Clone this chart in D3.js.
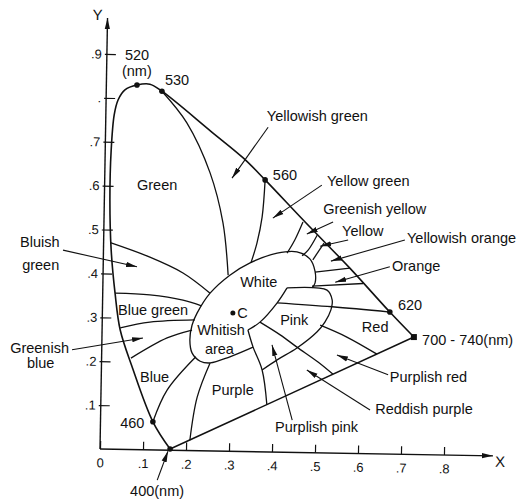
<!DOCTYPE html>
<html>
<head>
<meta charset="utf-8">
<script src="https://cdn.jsdelivr.net/npm/d3@7"></script>
<style>
  body { margin: 0; background: #fff; }
  text { font-family: "Liberation Sans", Arial, sans-serif; fill: #111; }
</style>
</head>
<body>
<div id="chart"></div>
<script>
// chromaticity values (x, y)
const xTicks = [0, 0.1, 0.2, 0.3, 0.4, 0.5, 0.6, 0.7, 0.8];
const xTickLabels = ["0", ".1", ".2", ".3", ".4", ".5", ".6", ".7", ".8"];
const yTicks = [0.1, 0.2, 0.3, 0.4, 0.5, 0.6, 0.7, 0.8, 0.9];
const yTickLabels = [".1", ".2", ".3", ".4", ".5", ".6", ".7", ".", ".9"];

// spectral locus from 400 nm round to 700 nm
const locus = [[0.163, 0.0], [0.123, 0.062], [0.074, 0.189], [0.047, 0.271], [0.035, 0.355],
  [0.026, 0.453], [0.023, 0.567], [0.026, 0.681], [0.033, 0.761], [0.042, 0.795], [0.058, 0.818],
  [0.086, 0.829], [0.116, 0.831], [0.144, 0.815], [0.260, 0.722], [0.333, 0.663], [0.384, 0.613],
  [0.477, 0.517], [0.581, 0.412], [0.674, 0.312], [0.730, 0.255]];
const purpleLine = [[0.730, 0.255], [0.163, 0.0]];

const wavelengths = [
  { nm: 400, x: 0.163, y: 0.0 }, { nm: 460, x: 0.123, y: 0.062 }, { nm: 520, x: 0.086, y: 0.829 },
  { nm: 530, x: 0.144, y: 0.815 }, { nm: 560, x: 0.384, y: 0.613 }, { nm: 620, x: 0.674, y: 0.312 }];
const redEnd = { x: 0.730, y: 0.255 };
const pointC = { x: 0.309, y: 0.310 };

// region boundaries
const greenEdge = [[0.144, 0.815], [0.202, 0.743], [0.256, 0.629], [0.286, 0.515], [0.298, 0.396]];
const yellowishGreenEdge = [[0.384, 0.613], [0.377, 0.528], [0.365, 0.469], [0.351, 0.424]];
const bluishGreenEdge = [[0.024, 0.470], [0.116, 0.437], [0.193, 0.401], [0.256, 0.355]];
const blueGreenTop = [[0.035, 0.355], [0.116, 0.351], [0.193, 0.339], [0.236, 0.326]];
const blueGreenBottom = [[0.047, 0.276], [0.116, 0.289], [0.221, 0.294]];
const greenishBlueEdge = [[0.072, 0.207], [0.156, 0.253], [0.214, 0.271]];
const bluePurpleEdge = [[0.123, 0.062], [0.156, 0.134], [0.223, 0.210]];
const purpleLeft = [[0.209, 0.020], [0.226, 0.118], [0.256, 0.196]];
const purpleRight = [[0.344, 0.271], [0.356, 0.232], [0.377, 0.180], [0.388, 0.101]];
const whiteOutline = [[0.356, 0.232], [0.302, 0.210], [0.256, 0.196], [0.233, 0.200], [0.214, 0.219],
  [0.209, 0.248], [0.214, 0.282], [0.226, 0.310], [0.256, 0.355], [0.302, 0.396], [0.349, 0.424],
  [0.412, 0.446], [0.458, 0.449], [0.488, 0.433], [0.500, 0.405], [0.500, 0.378], [0.493, 0.367]];
const pinkLobe = [[0.435, 0.367], [0.528, 0.362], [0.540, 0.339], [0.537, 0.317], [0.523, 0.289],
  [0.505, 0.267], [0.458, 0.230], [0.412, 0.203], [0.377, 0.180]];
const pinkLeft = [[0.435, 0.367], [0.412, 0.333], [0.372, 0.289], [0.344, 0.271]];
const redEdge = [[0.674, 0.312], [0.540, 0.324], [0.412, 0.333]];
const reddishPurpleEdge = [[0.372, 0.289], [0.419, 0.260], [0.458, 0.232], [0.507, 0.198], [0.542, 0.170]];
const purplishRedEdge = [[0.512, 0.282], [0.574, 0.255], [0.644, 0.216]];
const yellowEdges = [
  [[0.472, 0.517], [0.453, 0.476], [0.435, 0.446]],
  [[0.505, 0.487], [0.484, 0.453], [0.470, 0.440]],
  [[0.521, 0.469], [0.495, 0.431]],
  [[0.500, 0.403], [0.581, 0.412]],
  [[0.493, 0.371], [0.612, 0.377]]];

// leader arrows: from label to region
const arrows = [
  [[0.391, 0.733], [0.307, 0.617]],
  [[0.516, 0.601], [0.402, 0.526]],
  [[0.542, 0.517], [0.481, 0.490]],
  [[0.577, 0.476], [0.512, 0.462]],
  [[0.709, 0.476], [0.537, 0.428]],
  [[0.674, 0.415], [0.547, 0.380]],
  [[0.670, 0.169], [0.551, 0.214]],
  [[0.628, 0.089], [0.481, 0.180]],
  [[0.447, 0.066], [0.400, 0.237]],
  [[-0.065, 0.226], [0.100, 0.253]],
  [[-0.086, 0.453], [0.086, 0.415]],
  [[0.133, -0.071], [0.158, -0.005]]];

const labels = [
  ["Green", 0.086, 0.590], ["Yellowish green", 0.388, 0.747], ["560", 0.402, 0.613],
  ["Yellow green", 0.528, 0.599], ["Greenish yellow", 0.519, 0.535], ["Yellow", 0.563, 0.485],
  ["Yellowish orange", 0.714, 0.469], ["Orange", 0.679, 0.405], ["620", 0.693, 0.317],
  ["Red", 0.609, 0.267], ["700 - 740(nm)", 0.749, 0.237], ["Purplish red", 0.674, 0.153],
  ["Reddish purple", 0.640, 0.080], ["Purplish pink", 0.407, 0.039], ["Pink", 0.419, 0.282],
  ["White", 0.326, 0.369], ["C", 0.319, 0.298], ["Whitish", 0.226, 0.260], ["area", 0.244, 0.216],
  ["Purple", 0.260, 0.123], ["Blue", 0.093, 0.153], ["Blue green", 0.042, 0.305],
  ["Bluish", -0.186, 0.460], ["green", -0.181, 0.408], ["Greenish", -0.209, 0.219],
  ["blue", -0.170, 0.185], ["460", 0.047, 0.048], ["520", 0.058, 0.886], ["(nm)", 0.051, 0.850],
  ["530", 0.151, 0.829], ["400(nm)", 0.070, -0.107]];

const width = 523, height = 504;

const x = d3.scaleLinear().domain([0, 1]).range([100, 530]);
const y = d3.scaleLinear().domain([0, 1]).range([449, 10]);

const svg = d3.select("#chart")
  .append("svg")
  .attr("width", width)
  .attr("height", height);

svg.append("defs").append("marker")
  .attr("id", "arrow")
  .attr("viewBox", "0 -3 11 6")
  .attr("refX", 11)
  .attr("refY", 0)
  .attr("markerUnits", "userSpaceOnUse")
  .attr("markerWidth", 11)
  .attr("markerHeight", 6)
  .attr("orient", "auto")
  .append("path")
  .attr("d", "M0,-2.6L11,0L0,2.6Z")
  .attr("fill", "#111");

// the scan is turned about one degree, so the axes are too
const axes = svg.append("g")
  .attr("transform", `rotate(1, ${x(0)}, ${y(0)})`);

const xAxis = axes.append("g")
  .attr("transform", `translate(0, ${y(0)})`)
  .call(d3.axisBottom(x).tickValues(xTicks).tickFormat((d, i) => xTickLabels[i])
    .tickSize(-8).tickPadding(9));
xAxis.select(".domain").remove();
xAxis.selectAll("text").style("font-size", "13px").style("font-family", "Liberation Sans, Arial, sans-serif");
xAxis.selectAll("line").attr("stroke", "#111").attr("stroke-width", 1.2);
xAxis.append("line")
  .attr("x1", x(0)).attr("x2", x(0.914))
  .attr("stroke", "#111").attr("stroke-width", 1.4)
  .attr("marker-end", "url(#arrow)");

const yAxis = axes.append("g")
  .attr("transform", `translate(${x(0)}, 0)`)
  .call(d3.axisLeft(y).tickValues(yTicks).tickFormat((d, i) => yTickLabels[i])
    .tickSizeInner(-9).tickSizeOuter(0).tickPadding(5));
yAxis.select(".domain").remove();
yAxis.selectAll("text").style("font-size", "13px").style("font-family", "Liberation Sans, Arial, sans-serif");
yAxis.selectAll("line").attr("x1", -2).attr("stroke", "#111").attr("stroke-width", 1.2);
yAxis.append("line")
  .attr("y1", y(0)).attr("y2", y(0.982))
  .attr("stroke", "#111").attr("stroke-width", 1.4)
  .attr("marker-end", "url(#arrow)");

axes.append("text")
  .attr("x", x(-0.035)).attr("y", y(0.977))
  .style("font-size", "15px")
  .text("Y");
axes.append("text")
  .attr("x", x(0.919)).attr("y", y(-0.025))
  .style("font-size", "15px")
  .text("X");

const smooth = d3.line()
  .x(d => x(d[0]))
  .y(d => y(d[1]))
  .curve(d3.curveCatmullRom.alpha(0.5));

const straight = d3.line()
  .x(d => x(d[0]))
  .y(d => y(d[1]));

const marks = svg.append("g")
  .attr("fill", "none")
  .attr("stroke", "#111");

marks.append("path").attr("d", smooth(locus)).attr("stroke-width", 1.6);
marks.append("path").attr("d", straight(purpleLine)).attr("stroke-width", 1.5);

const edges = [greenEdge, yellowishGreenEdge, bluishGreenEdge, blueGreenTop, blueGreenBottom,
  greenishBlueEdge, bluePurpleEdge, purpleLeft, purpleRight, whiteOutline, pinkLobe, pinkLeft,
  redEdge, reddishPurpleEdge, purplishRedEdge, ...yellowEdges];

marks.selectAll(".edge")
  .data(edges)
  .join("path")
  .attr("class", "edge")
  .attr("d", d => smooth(d))
  .attr("stroke-width", 1.3);

marks.selectAll(".leader")
  .data(arrows)
  .join("path")
  .attr("class", "leader")
  .attr("d", d => straight(d))
  .attr("stroke-width", 1.1)
  .attr("marker-end", "url(#arrow)");

svg.selectAll(".wl")
  .data(wavelengths)
  .join("circle")
  .attr("class", "wl")
  .attr("cx", d => x(d.x))
  .attr("cy", d => y(d.y))
  .attr("r", 2.8)
  .attr("fill", "#111");

svg.append("rect")
  .attr("x", x(redEnd.x) - 3).attr("y", y(redEnd.y) - 3)
  .attr("width", 6).attr("height", 6)
  .attr("fill", "#111");

svg.append("circle")
  .attr("cx", x(pointC.x)).attr("cy", y(pointC.y))
  .attr("r", 2.5)
  .attr("fill", "#111");

svg.selectAll(".label")
  .data(labels)
  .join("text")
  .attr("class", "label")
  .attr("x", d => x(d[1]))
  .attr("y", d => y(d[2]))
  .style("font-size", "14.5px")
  .text(d => d[0]);
</script>
</body>
</html>
